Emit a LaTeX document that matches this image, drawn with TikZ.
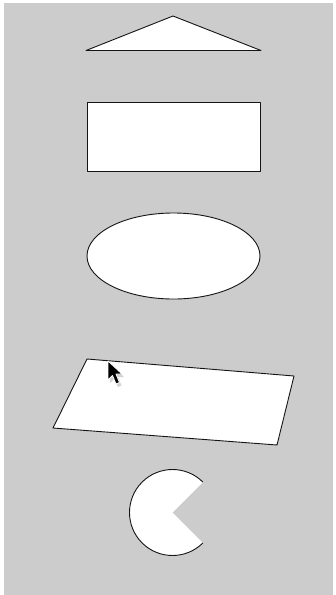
\documentclass[tikz,border=0pt]{standalone}
\usepackage{tikz}
\definecolor{canvasgray}{RGB}{204, 204, 204}
\definecolor{shapeink}{RGB}{20, 20, 20}
\tikzset{
  shapeline/.style = {
    draw=shapeink, 
    fill=white, 
    line width=0.9pt, 
    line join=round
  },
  cursorbody/.style = {
    fill=black, 
    draw=white, 
    line width=0.8pt, 
    line join=round
  }
}

\begin{document}
\begin{tikzpicture}[x=1pt, y=-1pt]
  % Canvas
  \useasboundingbox (0, 0) rectangle (336, 595);
  \fill[white] (0, 0) rectangle (336, 595);
  \fill[canvasgray] (4, 3) rectangle (333, 595);

  % Triangle
  \draw[shapeline] (86, 50.5) -- (173, 16) -- (261, 50.5) -- cycle;

  % Rectangle
  \draw[shapeline] (87, 102) rectangle (260, 171);

  % Ellipse
  \draw[shapeline] (173.5, 256) ellipse [x radius=86.5, y radius=43];

  % Skewed quadrilateral
  \draw[shapeline] (87, 359) -- (294, 376) -- (277, 445) -- (53, 428) -- cycle;

  % Pie with a slice cut out
  \coordinate (piecenter) at (172.5, 512.5);
  \fill[white] (piecenter) -- ++(-45:43) arc[start angle=-45, end angle=-315, radius=43] -- cycle;
  \draw[draw=shapeink, line width=0.9pt] (piecenter) ++(-45:43) arc[start angle=-45, end angle=-315, radius=43];

  % Mouse pointer
  \fill[black!35, opacity=0.5] (110, 364) -- (110, 383) -- (114.5, 378.5) -- (118, 387) -- (121.5, 385.5) -- (118, 377) -- (124, 377) -- cycle;
  \draw[cursorbody] (108, 361) -- (108, 380) -- (112.5, 375.5) -- (116, 384) -- (119.5, 382.5) -- (116, 374) -- (122, 374) -- cycle;
\end{tikzpicture}
\end{document}
